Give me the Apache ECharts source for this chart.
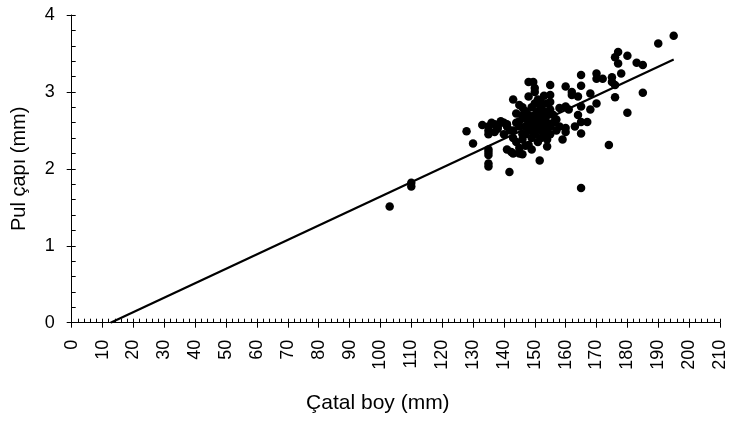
<!DOCTYPE html>
<html>
<head>
<meta charset="utf-8">
<script src="https://cdn.jsdelivr.net/npm/echarts@6/dist/echarts.min.js"></script>
<style>html,body{margin:0;padding:0;background:#fff}#c{width:729px;height:423px}</style>
</head>
<body>
<div id="c"></div>
<script>
// Çatal boy (mm) vs Pul çapı (mm)
const xTickValues = [0,10,20,30,40,50,60,70,80,90,100,110,120,130,140,150,160,170,180,190,200,210];
const yTickValues = [0,1,2,3,4];
const points = [
  [103,1.51],[110,1.77],[110,1.82],
  [127.9,2.49],[130,2.33],[133,2.57],
  [135,2.03],[135,2.07],[135,2.18],[135,2.22],[135,2.25],[135,2.45],[135,2.55],[135,2.5],
  [136,2.6],[137,2.58],[138,2.55],[139,2.62],[140,2.6],[141,2.55],[142,2.5],[141,2.58],[140,2.45],[138,2.52],[137,2.48],
  [141.8,1.96],[141,2.25],[142.4,2.22],[143,2.5],[143,2.9],[144,2.6],[145,2.83],[145,2.27],[146,2.7],[146,2.45],
  [147,2.55],[147,2.65],[148,2.31],[148,3.13],[149.5,3.13],[149,2.25],[150,3.05],[150,3.0],[148,2.94],[151.6,2.11],[152,2.87],
  [143,2.2],[145,2.2],[147,2.3],[146,2.19],
  [143,2.4],[144,2.35],[144,2.72],[145,2.55],[145,2.62],[146,2.38],[146,2.8],[147,2.45],[147,2.75],
  [148,2.5],[148,2.6],[148,2.7],[149,2.4],[149,2.55],[149,2.65],[149,2.8],
  [150,2.45],[150,2.5],[150,2.6],[150,2.7],[150,2.85],[151,2.35],[151,2.55],[151,2.65],[151,2.75],[151,2.9],
  [152,2.4],[152,2.5],[152,2.6],[152,2.7],[152,2.8],[153,2.45],[153,2.55],[153,2.65],[153,2.75],[153,2.95],
  [154,2.38],[154,2.29],[154,2.5],[154,2.6],[154,2.7],[154,2.85],
  [155,2.77],[155,2.87],[155,2.96],[155,3.09],[155,2.55],[155,2.45],[156,2.6],[156,2.7],[157,2.64],[157,2.5],
  [158,2.79],[158,2.55],[159,2.38],[160,2.48],[160,2.53],[160,2.81],[160,3.07],[161,2.77],[162,2.96],[162,3.0],
  [163,2.55],[164,2.94],[164,2.7],[165,2.81],[165,2.61],[165,2.46],[165,3.08],[165,3.22],[165,1.75],
  [167,2.61],[168,2.77],[168,2.98],[170,2.85],[170,3.24],[170,3.17],[172,3.17],[174,2.31],
  [175,3.19],[175,3.13],[176,2.93],[176,3.09],[176,3.45],[177,3.52],[177,3.37],[178,3.24],
  [180,2.73],[180,3.47],[183,3.38],[185,3.35],[185,2.99],[190,3.63],[195,3.73]
];
const fitLine = [[12.6,0],[195,3.42]];

const font = 'Liberation Sans, Arial, sans-serif';
const chart = echarts.init(document.getElementById('c'));
chart.setOption({
  animation: false,
  backgroundColor: '#fff',
  grid: {left: 71.7, right: 8.4, top: 15, bottom: 100.3, containLabel: false},
  xAxis: [
    {type: 'value', position: 'bottom', min: 0, max: 210, interval: 10,
     name: 'Çatal boy (mm)', nameLocation: 'middle', nameGap: 70,
     nameTextStyle: {fontFamily: font, fontSize: 21, color: '#000', padding: [0, 36, 0, 0]},
     axisLine: {show: true, lineStyle: {color: '#000', width: 1}},
     axisTick: {show: true, inside: false, length: 5, lineStyle: {color: '#000'}},
     axisLabel: {rotate: 90, margin: 17, fontFamily: font, fontSize: 18, color: '#000'},
     splitLine: {show: false}},
    {type: 'value', position: 'bottom', offset: 0, min: 0, max: 210, interval: 2,
     axisLine: {show: false},
     axisTick: {show: true, inside: true, length: 4, lineStyle: {color: '#000'}},
     axisLabel: {show: false}, splitLine: {show: false}}
  ],
  yAxis: [
    {type: 'value', position: 'left', min: 0, max: 4, interval: 1,
     name: 'Pul çapı (mm)', nameLocation: 'middle', nameGap: 42,
     nameTextStyle: {fontFamily: font, fontSize: 20, color: '#000'},
     axisLine: {show: true, lineStyle: {color: '#000', width: 1}},
     axisTick: {show: true, inside: false, length: 5, lineStyle: {color: '#000'}},
     axisLabel: {margin: 17, fontFamily: font, fontSize: 18, color: '#000'},
     splitLine: {show: false}},
    {type: 'value', position: 'left', offset: 0, min: 0, max: 4, interval: 0.2,
     axisLine: {show: false},
     axisTick: {show: true, inside: true, length: 4, lineStyle: {color: '#000'}},
     axisLabel: {show: false}, splitLine: {show: false}}
  ],
  series: [
    {type: 'scatter', xAxisIndex: 0, yAxisIndex: 0, data: points, symbol: 'circle', symbolSize: 8.5,
     itemStyle: {color: '#000', opacity: 1}},
    {type: 'line', xAxisIndex: 0, yAxisIndex: 0, data: fitLine, showSymbol: false, symbol: 'none',
     lineStyle: {color: '#000', width: 2.2}, z: 3}
  ]
});
</script>
</body>
</html>
